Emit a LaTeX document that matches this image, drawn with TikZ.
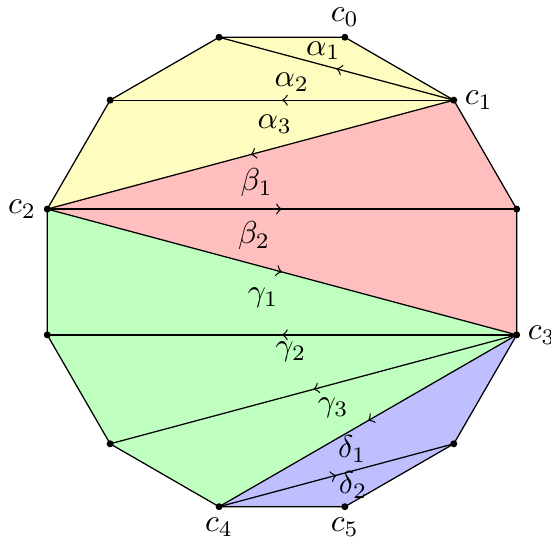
\documentclass[tikz,border=0pt]{standalone}
\usepackage{amsmath,amssymb}
\usepackage{tikz}
\usetikzlibrary{decorations.markings}

\begin{document}
\begin{tikzpicture}[
    chord/.style={postaction={decorate},
      decoration={markings,mark=at position 0.5 with {\arrow{to}}}},
    region/.style={draw=none},
    vlabel/.style={inner sep=3.33pt}
  ]
    \useasboundingbox (-3.133,-3.0) rectangle (2.989,3.022);
    % corners of the 12-gon
    \foreach \k in {0,...,11}
      \coordinate (v\k) at ({15+30*\k}:2.7);
    % the four coloured parts
    \fill[region,yellow!25] (v1) -- (v2) -- (v3) -- (v4) -- (v5) -- cycle;
    \fill[region,red!25] (v1) -- (v0) -- (v11) -- (v5) -- cycle;
    \fill[region,green!25] (v5) -- (v6) -- (v7) -- (v8) -- (v11) -- cycle;
    \fill[region,blue!25] (v11) -- (v10) -- (v9) -- (v8) -- cycle;
    \draw (v0) \foreach \k in {1,...,11} { -- (v\k) } -- cycle;
    % chords
    \draw[chord] (v1) -- (v3);
    \draw[chord] (v1) -- (v4);
    \draw[chord] (v1) -- (v5);
    \draw[chord] (v5) -- (v0);
    \draw[chord] (v5) -- (v11);
    \draw[chord] (v11) -- (v6);
    \draw[chord] (v11) -- (v7);
    \draw[chord] (v11) -- (v8);
    \draw[chord] (v8) -- (v10);
    \foreach \k in {0,...,11}
      \fill (v\k) circle (1.1pt);
    % chord labels
    \node (a1) at (0.46,2.46) {$\alpha_1$};
    \node (a2) at (0.11,2.11) {$\alpha_2$};
    \node (a3) at (-0.08,1.64) {$\alpha_3$};
    \node (b1) at (-0.28,0.99) {$\beta_1$};
    \node (b2) at (-0.31,0.40) {$\beta_2$};
    \node (g1) at (-0.21,-0.29) {$\gamma_1$};
    \node (g2) at (0.10,-0.89) {$\gamma_2$};
    \node (g3) at (0.57,-1.51) {$\gamma_3$};
    \node (d1) at (0.78,-1.97) {$\delta_1$};
    \node (d2) at (0.79,-2.37) {$\delta_2$};
    % corner labels
    \node[vlabel,above] (c0) at (v2) {$c_0$};
    \node[vlabel,right] (c1) at (v1) {$c_1$};
    \node[vlabel,left] (c2) at (v5) {$c_2$};
    \node[vlabel,right] (c3) at (v11) {$c_3$};
    \node[vlabel,below] (c4) at (v8) {$c_4$};
    \node[vlabel,below] (c5) at (v9) {$c_5$};
  \end{tikzpicture}
\end{document}
